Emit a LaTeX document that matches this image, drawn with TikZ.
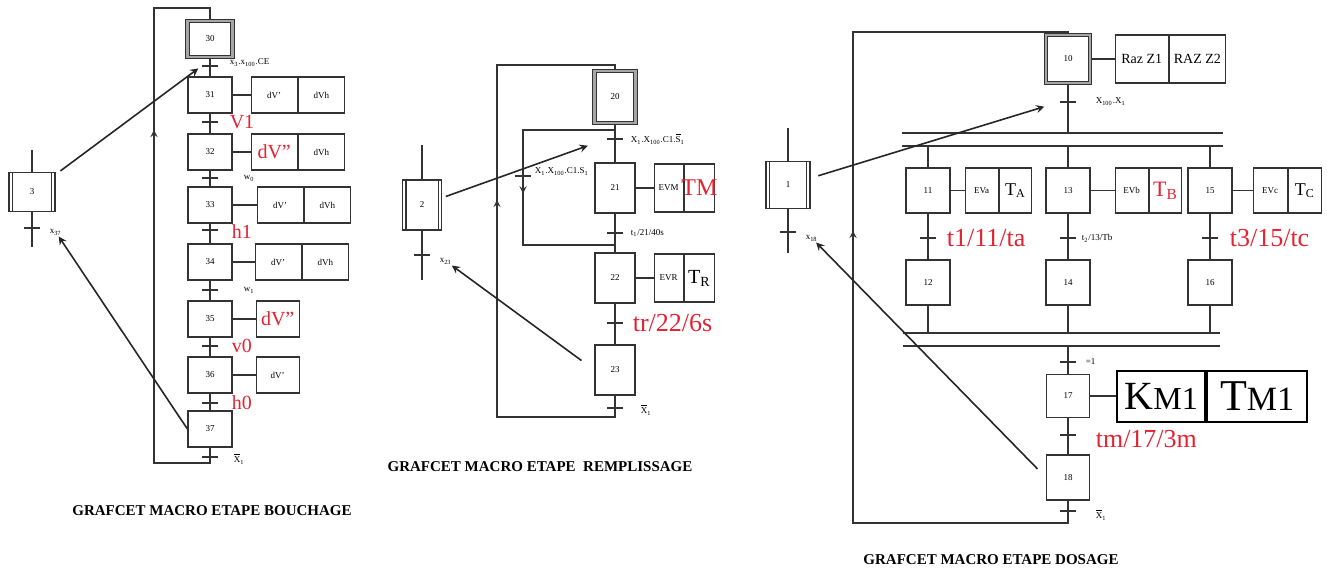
\documentclass[tikz,border=0pt]{standalone}
\usepackage{fontspec}
\setmainfont{Liberation Serif}
\usetikzlibrary{positioning, arrows, decorations.markings}
\definecolor{grafred}{RGB}{225,35,50}
\tikzstyle{etape} = [rectangle, draw=black!80, line width=0.6pt, minimum width=22pt, minimum height=18pt, inner sep=0pt, font=\fontsize{4.5}{5}\selectfont]
\tikzstyle{initstep} = [etape, double=black!35, double distance=1.2pt]
\tikzstyle{macro} = [etape]
\tikzstyle{action} = [etape, minimum width=23pt]
\tikzstyle{trans} = [rectangle, fill=black!80, minimum width=8pt, minimum height=0.9pt, inner sep=0pt]
\tikzstyle{cond} = [anchor=west, inner sep=0.5pt, font=\fontsize{4.5}{5}\selectfont]
\tikzstyle{redcond} = [anchor=west, inner sep=0.5pt, text=grafred, font=\fontsize{10}{10}\selectfont]
\tikzstyle{bigred} = [redcond, font=\fontsize{13}{13}\selectfont]
\tikzstyle{link} = [draw=black!80, line width=0.6pt]
\tikzstyle{arrow} = [draw=black!85, line width=0.8pt, ->, >=stealth]
\tikzstyle{caption} = [font=\bfseries\fontsize{7.5}{8}\selectfont]
\tikzset{loopmark/.style={postaction={decorate, decoration={markings, mark=at position #1 with {\arrow{stealth}}}}}}

\begin{document}
\begin{tikzpicture}[x=0.5pt, y=-0.5pt]
\useasboundingbox (0,0) rectangle (1327,574);

% ---------------- Bouchage ----------------
% Macro step 3
\node[macro, minimum width=23pt, minimum height=19.5pt] (m3) at (32,192) {3};
\draw[link] ([xshift=2pt]m3.north west) -- ([xshift=2pt]m3.south west);
\draw[link] ([xshift=-2pt]m3.north east) -- ([xshift=-2pt]m3.south east);
\coordinate (m3in) at (32,150);
\coordinate (m3out) at (32,247);
\node[trans] (t3) at (32,228) {};
\node[cond, right=4pt of t3, yshift=-2pt] (c3) {x\textsubscript{37}};
\draw[link] (m3in) -- (m3) -- (m3out);

% Steps
\node[initstep, minimum width=22.5pt] (s30) at (210,39) {30};
\node[trans] (t30) at (210,66) {};
\node[cond, right=5pt of t30, yshift=1.5pt] {x\textsubscript{3}.x\textsubscript{100}.CE};
\node[etape] (s31) at (210,95) {31};
\node[action, right=9pt of s31] (a31) {dV'};
\node[action, right=0pt of a31] (b31) {dVh};
\node[trans] (t31) at (210,122) {};
\node[redcond, right=5pt of t31] {V1};
\node[etape] (s32) at (210,152) {32};
\node[action, right=9pt of s32] (a32) {\textcolor{grafred}{\fontsize{10}{10}\selectfont dV''}};
\node[action, right=0pt of a32] (b32) {dVh};
\node[trans] (t32) at (210,178) {};
\node[cond, right=12pt of t32] {w\textsubscript{0}};
\node[etape] (s33) at (210,205) {33};
\node[action, right=12pt of s33] (a33) {dV'};
\node[action, right=0pt of a33] (b33) {dVh};
\node[trans] (t33) at (210,230) {};
\node[redcond, right=6pt of t33, yshift=-1pt] {h1};
\node[etape] (s34) at (210,262) {34};
\node[action, right=11pt of s34] (a34) {dV'};
\node[action, right=0pt of a34] (b34) {dVh};
\node[trans] (t34) at (210,290) {};
\node[cond, right=12pt of t34] {w\textsubscript{1}};
\node[etape] (s35) at (210,319) {35};
\node[action, right=11.5pt of s35, minimum width=21.5pt] (a35) {\textcolor{grafred}{\fontsize{10}{10}\selectfont dV''}};
\node[trans] (t35) at (210,346) {};
\node[redcond, right=6pt of t35] {v0};
\node[etape] (s36) at (210,375) {36};
\node[action, right=11.5pt of s36, minimum width=21.5pt] (a36) {dV'};
\node[trans] (t36) at (210,403) {};
\node[redcond, right=6pt of t36] {h0};
\node[etape] (s37) at (210,429) {37};
\node[trans] (t37) at (210,457) {};
\node[cond, right=7pt of t37, yshift=-1pt] {$\overline{\mbox{X}}$\textsubscript{1}};

% Links
\draw[link] (s30) -- (s31) -- (s32) -- (s33) -- (s34) -- (s35) -- (s36) -- (s37);
\foreach \s in {31,...,36} \draw[link] (s\s) -- (a\s);
\coordinate (l37) at (210,463);
\coordinate (l30) at (154,8);
\draw[link, loopmark=0.68] (s37) -- (l37) -| (l30) -| (s30);

\draw[arrow, shorten <=3pt, shorten >=2pt] (m3) -- (t30.west);
\draw[arrow] (s37.west) -- (c3);

\node[caption] at (212,511) {GRAFCET MACRO ETAPE BOUCHAGE};

% ---------------- Remplissage ----------------
% Macro step 2
\node[macro, minimum width=19.5pt, minimum height=25pt] (m2) at (422,205) {2};
\draw[link] ([xshift=2pt]m2.north west) -- ([xshift=2pt]m2.south west);
\draw[link] ([xshift=-2pt]m2.north east) -- ([xshift=-2pt]m2.south east);
\coordinate (m2in) at (422,145);
\coordinate (m2out) at (422,280);
\node[trans] (t2) at (422,255) {};
\node[cond, right=4pt of t2, yshift=-3pt] (c2) {x\textsubscript{23}};
\draw[link] (m2in) -- (m2) -- (m2out);

% Steps
\node[initstep, minimum width=20.5pt, minimum height=26pt] (s20) at (615,97) {20};
\node[trans] (t20) at (615,139) {};
\node[cond, right=3pt of t20] {X\textsubscript{1}.X\textsubscript{100}.C1.$\overline{\mbox{S}}$\textsubscript{1}};
\node[etape, minimum width=20pt, minimum height=25pt] (s21) at (615,188) {21};
\node[action, right=9pt of s21, minimum width=14.5pt, minimum height=24pt] (a21) {EVM};
\node[action, right=0pt of a21, minimum width=15pt, minimum height=24pt] (b21) {\makebox[0pt]{\textcolor{grafred}{\fontsize{12}{12}\selectfont TM}}};
\node[trans] (t21) at (615,233) {};
\node[cond, right=3pt of t21] {t\textsubscript{1}/21/40s};
\node[etape, minimum width=20pt, minimum height=25pt] (s22) at (615,278) {22};
\node[action, right=9pt of s22, minimum width=14.5pt, minimum height=24pt] (a22) {EVR};
\node[action, right=0pt of a22, minimum width=15pt, minimum height=24pt] (b22) {\fontsize{10}{10}\selectfont T\textsubscript{R}};
\node[trans] (t22) at (615,323) {};
\node[bigred, right=4pt of t22] {tr/22/6s};
\node[etape, minimum width=20pt, minimum height=25pt] (s23) at (615,370) {23};
\node[trans] (t23) at (615,408) {};
\node[cond, right=8pt of t23, yshift=-1pt] {$\overline{\mbox{X}}$\textsubscript{1}};

% Links
\draw[link] (s20) -- (s21) -- (s22) -- (s23);
\draw[link] (s21) -- (a21);
\draw[link] (s22) -- (a22);
\coordinate (j20) at (615,130);
\coordinate (j22) at (523,245);
\coordinate (k22) at (615,245);
\node[trans] (ti) at (523,176) {};
\node[cond, right=1pt of ti, yshift=2pt] {X\textsubscript{1}.X\textsubscript{100}.C1.S\textsubscript{1}};
\draw[link, loopmark=0.52] (j20) -| (j22) -- (k22);
\coordinate (l23) at (615,417);
\coordinate (l20) at (497,65);
\draw[link, loopmark=0.58] (s23) -- (l23) -| (l20) -| (s20);

\draw[arrow, shorten <=2pt, shorten >=10pt] (m2) -- (t20.west);
\draw[arrow, shorten <=8pt] (s23.west) -- (c2);

\node[caption] at (540,467) {GRAFCET MACRO ETAPE\ \ REMPLISSAGE};

% ---------------- Dosage ----------------
% Macro step 1
\node[macro, minimum width=22pt, minimum height=23.5pt] (m1) at (788,185) {1};
\draw[link] ([xshift=2pt]m1.north west) -- ([xshift=2pt]m1.south west);
\draw[link] ([xshift=-2pt]m1.north east) -- ([xshift=-2pt]m1.south east);
\coordinate (m1in) at (788,128);
\coordinate (m1out) at (788,253);
\node[trans] (t1) at (788,232) {};
\node[cond, right=4pt of t1, yshift=-3pt] (c1) {x\textsubscript{18}};
\draw[link] (m1in) -- (m1) -- (m1out);

% Steps
\node[initstep, minimum width=22pt, minimum height=24pt] (s10) at (1068,59) {10};
\node[action, right=12pt of s10, minimum width=26.5pt, minimum height=24pt, font=\fontsize{7}{7}\selectfont] (a10) {Raz Z1};
\node[action, right=0pt of a10, minimum width=28pt, minimum height=24pt, font=\fontsize{7}{7}\selectfont] (b10) {RAZ Z2};
\node[trans] (t10) at (1068,102) {};
\node[cond, right=9pt of t10] {X\textsubscript{100}.X\textsubscript{1}};

\coordinate (dv1L) at (902,133); \coordinate (dv1R) at (1223,133);
\coordinate (dv2L) at (902,146); \coordinate (dv2R) at (1223,146);

\node[etape, minimum height=22.5pt] (s11) at (928,190.5) {11};
\node[action, right=7pt of s11, minimum width=16.5pt, minimum height=22.5pt] (a11) {EVa};
\node[action, right=0pt of a11, minimum width=16pt, minimum height=22.5pt] (b11) {\fontsize{9}{9}\selectfont T\textsubscript{A}};
\node[trans] (t11) at (928,238) {};
\node[bigred, right=4.5pt of t11] {t1/11/ta};
\node[etape, minimum height=22.5pt] (s12) at (928,282.5) {12};

\node[etape, minimum height=22.5pt] (s13) at (1068,190.5) {13};
\node[action, right=12pt of s13, minimum width=16.5pt, minimum height=22.5pt] (a13) {EVb};
\node[action, right=0pt of a13, minimum width=16pt, minimum height=22.5pt] (b13) {\textcolor{grafred}{\fontsize{11}{11}\selectfont T\textsubscript{B}}};
\node[trans] (t13) at (1068,238) {};
\node[cond, right=2pt of t13] {t\textsubscript{2}/13/Tb};
\node[etape, minimum height=22.5pt] (s14) at (1068,282.5) {14};

\node[etape, minimum height=22.5pt] (s15) at (1210,190.5) {15};
\node[action, right=10pt of s15, minimum width=17pt, minimum height=22.5pt] (a15) {EVc};
\node[action, right=0pt of a15, minimum width=16.5pt, minimum height=22.5pt] (b15) {\fontsize{9}{9}\selectfont T\textsubscript{C}};
\node[trans] (t15) at (1210,238) {};
\node[bigred, right=5pt of t15] {t3/15/tc};
\node[etape, minimum height=22.5pt] (s16) at (1210,282.5) {16};

\coordinate (cv1L) at (903,333); \coordinate (cv1R) at (1220,333);
\coordinate (cv2L) at (903,346); \coordinate (cv2R) at (1220,346);

\node[trans] (tc) at (1068,362) {};
\node[cond, right=4pt of tc] {=1};
\node[etape, minimum width=21.5pt, minimum height=21.5pt] (s17) at (1068,396) {17};
\node[action, right=13pt of s17, minimum width=44pt, minimum height=25.5pt, draw=black, line width=1pt] (a17) {{\fontsize{20}{20}\selectfont K}{\fontsize{16}{16}\selectfont M1}};
\node[action, right=0pt of a17, minimum width=50pt, minimum height=25.5pt, draw=black, line width=1pt] (b17) {{\fontsize{22}{22}\selectfont T}{\fontsize{17}{17}\selectfont M1}};
\node[trans] (t17) at (1068,435) {};
\node[bigred, right=9pt of t17, yshift=-2pt] {tm/17/3m};
\node[etape, minimum width=21.5pt, minimum height=22.5pt] (s18) at (1068,477.5) {18};
\node[trans] (t18) at (1068,511) {};
\node[cond, right=9pt of t18, yshift=-2pt] {$\overline{\mbox{X}}$\textsubscript{1}};

% Links
\draw[link] (dv1L) -- (dv1R);
\draw[link] (dv2L) -- (dv2R);
\draw[link] (cv1L) -- (cv1R);
\draw[link] (cv2L) -- (cv2R);
\draw[link] (s10) -- (s10 |- dv1L);
\draw[link] (s10) -- (a10);
\foreach \s/\e in {11/12, 13/14, 15/16} {
  \draw[link] (s\s |- dv2L) -- (s\s) -- (s\e) -- (s\e |- cv1L);
  \draw[link] (s\s) -- (a\s);
}
\draw[link] (s17 |- cv2L) -- (s17) -- (s18);
\draw[link] (s17) -- (a17);
\coordinate (l18) at (1068,523);
\coordinate (l10) at (853,32);
\draw[link, loopmark=0.56] (s18) -- (l18) -| (l10) -| (s10);

\draw[arrow, shorten <=4pt, shorten >=8pt] (m1) -- (t10.west);
\draw[arrow, shorten <=6pt] (s18.west) -- (c1);

\node[caption] at (991,560) {GRAFCET MACRO ETAPE DOSAGE};

\end{tikzpicture}
\end{document}
